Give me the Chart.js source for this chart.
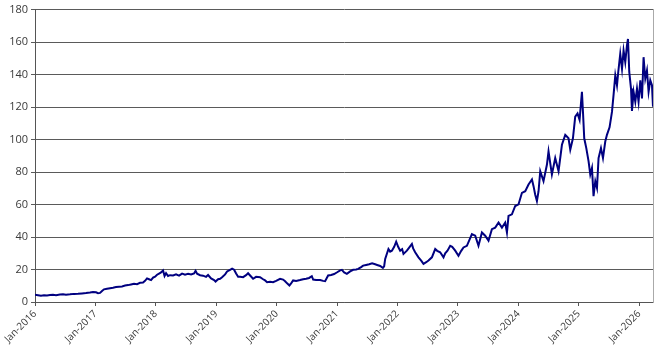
<!DOCTYPE html>
<html>
<head>
<meta charset="utf-8">
<script src="https://cdn.jsdelivr.net/npm/chart.js@4/dist/chart.umd.min.js"></script>
<style>
html,body{margin:0;padding:0;background:#fff;}
#c{display:block;}
</style>
</head>
<body>
<canvas id="c" width="662" height="356"></canvas>
<script>
// Time of each observation, in years (2016.0 = start of Jan-2016)
const years = [
2016.000,2016.050,2016.099,2016.149,2016.199,2016.248,2016.298,2016.348,2016.414,2016.464,
2016.513,2016.579,2016.646,2016.712,2016.778,2016.844,2016.911,2016.960,2017.010,2017.043,
2017.076,2017.109,2017.142,2017.192,2017.242,2017.291,2017.341,2017.391,2017.440,2017.490,
2017.540,2017.589,2017.639,2017.689,2017.738,2017.788,2017.821,2017.854,2017.887,2017.921,
2017.954,2017.987,2018.020,2018.053,2018.086,2018.119,2018.144,2018.169,2018.202,2018.235,
2018.285,2018.334,2018.384,2018.434,2018.483,2018.533,2018.583,2018.632,2018.657,2018.682,
2018.732,2018.781,2018.831,2018.864,2018.914,2018.964,2018.988,2019.030,2019.063,2019.096,
2019.146,2019.179,2019.228,2019.262,2019.295,2019.328,2019.361,2019.394,2019.444,2019.493,
2019.526,2019.560,2019.609,2019.659,2019.725,2019.775,2019.808,2019.841,2019.891,2019.940,
2019.990,2020.056,2020.106,2020.139,2020.172,2020.210,2020.238,2020.272,2020.321,2020.387,
2020.437,2020.487,2020.536,2020.581,2020.603,2020.652,2020.719,2020.768,2020.801,2020.851,
2020.901,2020.950,2021.000,2021.050,2021.078,2021.116,2021.161,2021.215,2021.265,2021.315,
2021.348,2021.397,2021.430,2021.480,2021.530,2021.579,2021.629,2021.662,2021.712,2021.757,
2021.778,2021.795,2021.849,2021.877,2021.906,2021.944,2021.977,2022.010,2022.043,2022.076,
2022.098,2022.154,2022.192,2022.237,2022.258,2022.291,2022.346,2022.391,2022.429,2022.474,
2022.512,2022.568,2022.623,2022.656,2022.705,2022.760,2022.788,2022.826,2022.871,2022.904,
2022.954,2023.008,2023.053,2023.091,2023.147,2023.202,2023.230,2023.285,2023.339,2023.396,
2023.450,2023.505,2023.561,2023.616,2023.671,2023.727,2023.781,2023.810,2023.836,2023.892,
2023.947,2024.002,2024.058,2024.113,2024.167,2024.224,2024.250,2024.278,2024.306,2024.333,
2024.361,2024.415,2024.472,2024.498,2024.554,2024.609,2024.664,2024.720,2024.775,2024.829,
2024.858,2024.902,2024.940,2024.978,2025.012,2025.051,2025.068,2025.089,2025.123,2025.161,
2025.189,2025.217,2025.243,2025.272,2025.300,2025.326,2025.366,2025.399,2025.437,2025.465,
2025.508,2025.548,2025.574,2025.603,2025.631,2025.652,2025.685,2025.714,2025.740,2025.768,
2025.796,2025.813,2025.834,2025.863,2025.879,2025.906,2025.934,2025.962,2025.988,2026.017,
2026.045,2026.071,2026.099,2026.127,2026.154,2026.182,2026.210,2026.227
];
// Price level
const prices = [
4.5,4.2,3.9,4.1,4.0,4.3,4.4,4.2,4.6,4.8,
4.5,4.7,5.0,5.1,5.3,5.5,5.8,6.2,6.0,5.4,
5.6,6.8,7.8,8.2,8.5,8.8,9.2,9.4,9.6,10.1,
10.4,10.8,11.2,11.0,11.8,12.0,13.0,14.5,14.0,13.5,
15.0,15.6,16.8,17.5,18.2,19.4,16.0,17.8,16.0,16.5,
16.3,17.0,16.2,17.5,16.8,17.3,16.9,17.6,19.2,17.4,
16.5,16.2,15.5,16.6,14.5,13.5,12.6,14.0,14.3,15.2,
17.0,18.8,19.8,20.5,19.9,17.5,15.5,15.6,15.3,16.5,
17.7,16.3,14.3,15.5,15.3,14.0,13.3,12.2,12.4,12.2,
13.0,14.3,13.8,12.8,11.5,10.2,11.5,13.3,13.0,13.5,
14.0,14.3,14.8,15.9,13.8,13.6,13.5,13.0,12.8,16.3,
16.6,17.2,18.3,19.5,19.8,18.2,17.3,18.8,19.8,20.0,
20.4,21.5,22.4,22.8,23.2,23.8,23.2,22.8,22.2,21.0,
22.0,26.5,32.6,31.0,31.6,34.0,37.1,34.0,31.6,32.5,
29.6,31.6,33.5,35.7,33.0,30.6,27.5,25.5,23.5,24.5,
25.5,27.5,32.6,31.5,30.6,27.5,30.0,31.6,34.6,34.0,
31.6,28.5,31.5,33.6,34.6,39.3,41.8,40.8,34.6,42.8,
40.8,37.7,44.8,45.8,48.9,45.8,48.9,42.8,53.0,54.0,
59.1,60.1,67.2,68.2,72.3,75.4,71.3,66.0,62.1,68.2,
80.5,74.4,84.6,92.7,78.5,88.6,80.5,96.8,102.9,100.8,
93.7,100.8,114.1,116.1,112.1,129.4,117.1,100.8,94.7,86.6,
78.5,82.5,65.2,74.4,70.3,88.6,94.7,88.6,98.8,102.9,
107.5,117.0,127.3,139.5,133.4,141.6,152.8,143.6,154.9,147.7,
157.9,161.9,141.6,131.4,117.6,129.4,123.3,131.4,123.3,136.5,
125.3,150.7,137.5,142.6,129.4,136.5,133.4,120.2
];
// Axis ticks
const xTickYears = [2016,2017,2018,2019,2020,2021,2022,2023,2024,2025,2026];
const xTickLabels = ['Jan-2016','Jan-2017','Jan-2018','Jan-2019','Jan-2020','Jan-2021','Jan-2022','Jan-2023','Jan-2024','Jan-2025','Jan-2026'];
const yTickValues = [0,20,40,60,80,100,120,140,160,180];

const points = years.map((t, i) => ({x: t, y: prices[i]}));
const textColor = '#3a3a3a';

new Chart(document.getElementById('c'), {
  type: 'line',
  data: {
    datasets: [{
      data: points,
      borderColor: '#000080',
      borderWidth: 2,
      pointRadius: 0,
      tension: 0,
      fill: false
    }]
  },
  options: {
    responsive: false,
    animation: false,
    devicePixelRatio: 1,
    layout: {padding: {top: 5, right: 9, left: 0, bottom: 0}},
    plugins: {legend: {display: false}, tooltip: {enabled: false}},
    scales: {
      x: {
        type: 'linear',
        min: 2016,
        max: years[years.length - 1],
        afterBuildTicks: (axis) => { axis.ticks = xTickYears.map(v => ({value: v})); },
        afterFit: (axis) => { axis.height = 54; },
        ticks: {
          autoSkip: false,
          maxRotation: 45,
          minRotation: 45,
          padding: 2,
          color: textColor,
          font: {family: 'Open Sans', size: 10},
          callback: (v) => xTickLabels[xTickYears.indexOf(v)]
        },
        grid: {display: true, drawOnChartArea: false, drawTicks: true, tickLength: 4, color: '#555'},
        border: {display: true, color: '#555', width: 1}
      },
      y: {
        min: 0,
        max: 180,
        afterBuildTicks: (axis) => { axis.ticks = yTickValues.map(v => ({value: v})); },
        afterFit: (axis) => { axis.width = 35; },
        ticks: {
          padding: 3,
          color: textColor,
          font: {family: 'Open Sans', size: 11}
        },
        grid: {display: true, drawTicks: true, tickLength: 4, color: '#5a5a5a', lineWidth: 1},
        border: {display: true, color: '#555', width: 1}
      },
      y2: {
        position: 'right',
        min: 0,
        max: 180,
        ticks: {display: false},
        grid: {display: false, drawTicks: false},
        border: {display: true, color: '#aaa', width: 1},
        afterFit: (axis) => { axis.width = 0; }
      }
    }
  }
});
</script>
</body>
</html>
